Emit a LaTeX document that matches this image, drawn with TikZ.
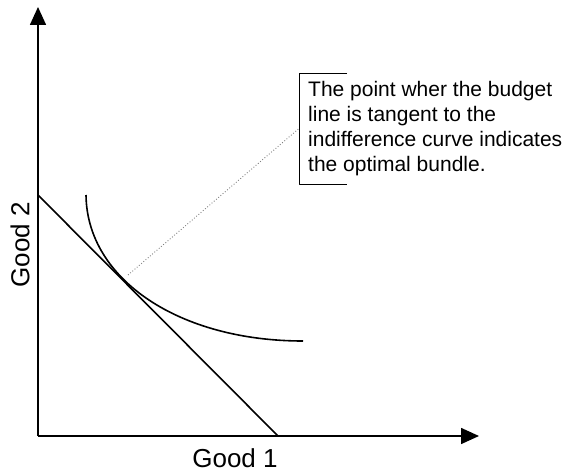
\documentclass[tikz,border=0pt]{standalone}
\usepackage{fontspec}
\setmainfont{Liberation Sans}
\usetikzlibrary{arrows.meta, positioning, calc}

\begin{document}
\begin{tikzpicture}[x=1pt, y=-1pt, >={Triangle[length=18pt, width=16pt]}, line join=round,
    axis/.style={line width=1.6pt, ->},
    curve/.style={line width=1.6pt},
    label/.style={font=\fontsize{26}{30}\selectfont, inner sep=0pt},
    note/.style={font=\fontsize{21}{25}\selectfont, align=left, inner xsep=9pt, inner ysep=8pt}]
    \useasboundingbox (0,0) rectangle (567,473);
    \coordinate (O) at (38,436);
    \coordinate (Ytop) at (38,7);
    \coordinate (Xend) at (479,436);

    % axes
    \draw[axis] (O) -- (Ytop);
    \draw[axis] (O) -- (Xend);
    \node[label, rotate=90] (good2) at (20,245) {Good 2};
    \node[label, anchor=base] (good1) at (235,467) {Good 1};

    % budget line and indifference curve
    \coordinate (B1) at (38,195);
    \coordinate (B2) at (278,436);
    \draw[curve] (B1) -- (B2);
    \coordinate (I1) at (86,195);
    \coordinate (I2) at (303,341);
    \draw[curve] (I1) .. controls (87,280) and (180,341) .. (I2);

    % callout
    \coordinate (T) at (128,275);
    \node[note, anchor=north west] (callout) at (299,73)
        {The point wher the budget\\line is tangent to the\\indifference curve indicates\\the optimal bundle.};
    \draw[line width=0.8pt] ($(callout.north west)+(48,0)$) -- (callout.north west)
        -- (callout.south west) -- ++(48,0);
    \draw[gray, dotted, line width=0.9pt] (T) -- (callout.west);
\end{tikzpicture}
\end{document}
